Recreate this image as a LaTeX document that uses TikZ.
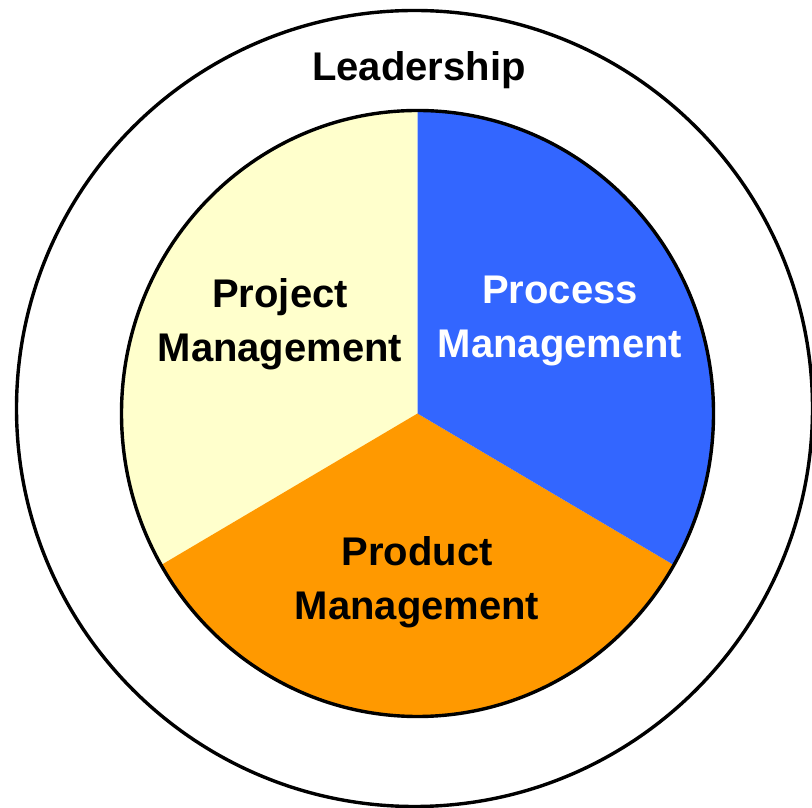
\documentclass[tikz,border=0pt]{standalone}
\usepackage{fontspec}
\setmainfont{Liberation Sans}
\usepackage{tikz}
\usetikzlibrary{calc}

\definecolor{projfill}{HTML}{FFFFCC}
\definecolor{procfill}{HTML}{3366FF}
\definecolor{prodfill}{HTML}{FF9900}

\tikzset{
  label/.style={font=\fontsize{20}{27}\selectfont\bfseries, align=center, anchor=base, inner sep=0pt},
}

\begin{document}
\begin{tikzpicture}[x=0.5pt, y=0.5pt]
\useasboundingbox (0,0) rectangle (812,807);

\pgfmathsetmacro{\R}{398}
\pgfmathsetmacro{\rx}{296}
\pgfmathsetmacro{\ry}{303}
\coordinate (O) at (414.5,398.5);
\coordinate (C) at (417.5,393.5);

% Leadership ring
\draw[line width=1.7pt] (O) circle[radius=\R];

% Three sectors of the core
\foreach \a/\c in {90/projfill, 210/prodfill, 330/procfill}
  \fill[\c] (C) -- ++(\a:{\rx} and {\ry}) arc[start angle=\a, delta angle=120, x radius=\rx, y radius=\ry] -- cycle;
\draw[line width=1.7pt] (C) ellipse[x radius=\rx, y radius=\ry];

% Labels (base = last line)
\node[label] (lead) at (419,726) {Leadership};
\node[label] (proj) at (280,445) {Project\\Management};
\node[label, text=white] (proc) at (560,449) {Process\\Management};
\node[label] (prod) at (417,187) {Product\\Management};
\end{tikzpicture}
\end{document}
